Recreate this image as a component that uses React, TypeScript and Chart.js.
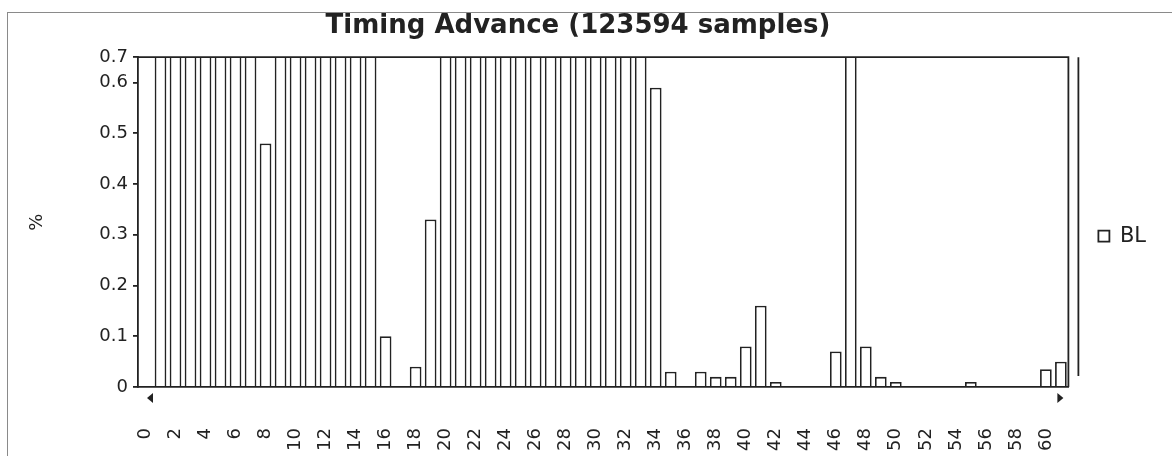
import React, { useEffect, useRef } from "react";
import { Chart, registerables } from "chart.js";

Chart.register(...registerables);

const chartTitle = "Timing Advance (123594 samples)";
const seriesName = "BL";
const yAxisTitle = "%";

const categories = [
  "0", "1", "2", "3", "4", "5", "6", "7", "8", "9",
  "10", "11", "12", "13", "14", "15", "16", "17", "18", "19",
  "20", "21", "22", "23", "24", "25", "26", "27", "28", "29",
  "30", "31", "32", "33", "34", "35", "36", "37", "38", "39",
  "40", "41", "42", "43", "44", "45", "46", "47", "48", "49",
  "50", "51", "52", "53", "54", "55", "56", "57", "58", "59",
  "60", "61",
];

// Percent of samples per Timing Advance value (bars above the axis max are off-scale)
const blValues = [
  0, 6.8, 7.9, 8.4, 7.2, 6.1, 5.3, 4.6, 0.48, 3.8,
  3.5, 3.1, 2.7, 2.4, 2.0, 1.6, 0.1, 0, 0.04, 0.33,
  1.4, 1.9, 2.3, 2.6, 2.8, 2.9, 2.7, 2.5, 2.2, 1.9,
  1.6, 1.3, 1.0, 0.8, 0.59, 0.03, 0, 0.03, 0.02, 0.02,
  0.08, 0.16, 0.01, 0, 0, 0, 0.07, 1.1, 0.08, 0.02,
  0.01, 0, 0, 0, 0, 0.01, 0, 0, 0, 0,
  0.035, 0.05,
];

const xTickLabels = [
  "0", "2", "4", "6", "8", "10", "12", "14", "16", "18",
  "20", "22", "24", "26", "28", "30", "32", "34", "36", "38",
  "40", "42", "44", "46", "48", "50", "52", "54", "56", "58", "60",
];

const yMax = 0.65;
const yTickValues = [0, 0.1, 0.2, 0.3, 0.4, 0.5, 0.6, 0.65];
const yTickLabels = ["0", "0.1", "0.2", "0.3", "0.4", "0.5", "0.6", "0.7"];

const INK = "#222222";
const FONT = "'DejaVu Sans', Verdana, sans-serif";

const framePlugin = {
  id: "plotFrame",
  afterDraw(chart: any) {
    const { ctx, chartArea: a } = chart;
    ctx.save();
    ctx.strokeStyle = INK;
    ctx.lineWidth = 1.8;
    ctx.beginPath();
    ctx.moveTo(a.left, a.top);
    ctx.lineTo(a.right, a.top);
    ctx.lineTo(a.right, a.bottom);
    ctx.moveTo(a.right + 10, a.top);
    ctx.lineTo(a.right + 10, a.bottom - 11);
    ctx.stroke();
    ctx.fillStyle = INK;
    const ay = a.bottom + 11;
    ctx.beginPath();
    ctx.moveTo(a.left + 9, ay);
    ctx.lineTo(a.left + 15, ay - 5);
    ctx.lineTo(a.left + 15, ay + 5);
    ctx.closePath();
    ctx.fill();
    ctx.beginPath();
    ctx.moveTo(a.right - 5, ay);
    ctx.lineTo(a.right - 11, ay - 5);
    ctx.lineTo(a.right - 11, ay + 5);
    ctx.closePath();
    ctx.fill();
    ctx.restore();
  },
};

export default function App() {
  const canvasRef = useRef<HTMLCanvasElement | null>(null);

  useEffect(() => {
    if (!canvasRef.current) return;
    const chart = new Chart(canvasRef.current, {
      type: "bar",
      data: {
        labels: categories,
        datasets: [
          {
            label: seriesName,
            data: blValues,
            backgroundColor: "#ffffff",
            borderColor: INK,
            borderWidth: 1.8,
            barPercentage: 0.78,
            categoryPercentage: 1,
            clip: 0,
          } as any,
        ],
      },
      options: {
        responsive: false,
        animation: false,
        devicePixelRatio: 1,
        layout: { padding: { left: 0, right: 16, top: 0, bottom: 0 } },
        plugins: {
          title: {
            display: true,
            text: chartTitle,
            color: "#222",
            font: { family: FONT, size: 26, weight: "bold" },
            padding: { top: 11, bottom: 15 },
          },
          legend: {
            display: true,
            position: "right",
            fullSize: false,
            title: { display: true, text: " ", font: { size: 10 }, padding: 8 },
            labels: {
              boxWidth: 11,
              boxHeight: 11,
              padding: 30,
              color: INK,
              font: { family: FONT, size: 21 },
            },
          },
          tooltip: { enabled: false },
        },
        scales: {
          x: {
            type: "category",
            offset: true,
            grid: { display: false, drawTicks: false },
            border: { display: true, color: INK, width: 1.8 },
            ticks: {
              autoSkip: false,
              minRotation: 90,
              maxRotation: 90,
              padding: 41,
              color: INK,
              font: { family: FONT, size: 18 },
              callback: (_v: any, index: number) =>
                xTickLabels.includes(categories[index]) ? categories[index] : null,
            },
            afterFit: (scale: any) => {
              scale.height = 69;
            },
          },
          y: {
            type: "linear",
            min: 0,
            max: yMax,
            grid: { drawOnChartArea: false, drawTicks: true, tickLength: 5, color: INK, lineWidth: 1.8 },
            border: { display: true, color: INK, width: 1.8 },
            title: {
              display: true,
              text: yAxisTitle,
              color: INK,
              font: { family: FONT, size: 18 },
              padding: { top: 27, bottom: 0 },
            },
            ticks: {
              padding: 5,
              color: INK,
              font: { family: FONT, size: 18 },
              callback: (_v: any, index: number) => yTickLabels[index],
            },
            afterBuildTicks: (scale: any) => {
              scale.ticks = yTickValues.map((v) => ({ value: v }));
            },
            afterFit: (scale: any) => {
              scale.width = 138;
            },
          },
        },
      } as any,
      plugins: [framePlugin],
    });
    return () => chart.destroy();
  }, []);

  return (
    <div
      style={{
        position: "fixed",
        left: 0,
        top: 0,
        width: 1172,
        height: 456,
        overflow: "hidden",
        background: "#ffffff",
      }}
    >
      <div
        style={{
          position: "absolute",
          left: 7,
          top: 12,
          width: 1200,
          height: 500,
          borderLeft: "1px solid #8a8a8a",
          borderTop: "1px solid #8a8a8a",
        }}
      />
      <canvas
        ref={canvasRef}
        width={1172}
        height={456}
        style={{ position: "absolute", left: 0, top: 0, display: "block" }}
      />
    </div>
  );
}
